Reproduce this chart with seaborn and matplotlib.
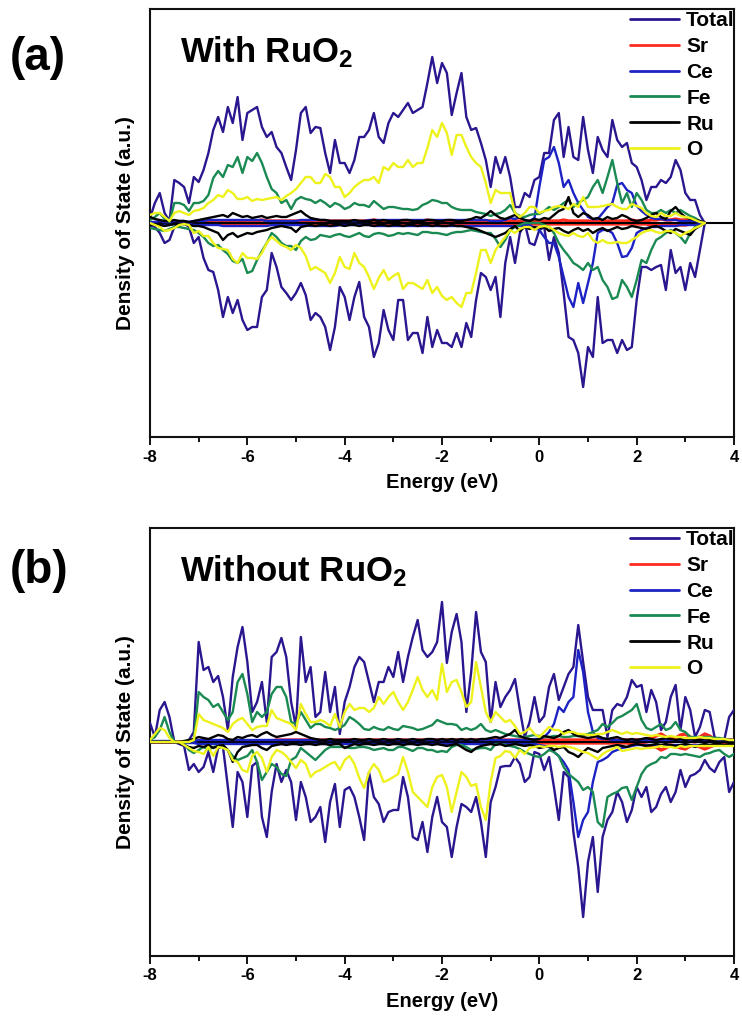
import numpy as np
import matplotlib
matplotlib.use("Agg")
import matplotlib.pyplot as plt
from matplotlib.lines import Line2D
import seaborn as sns

# ---------------- data (heights in arbitrary units) -------------
E_a = np.round(np.arange(115) * 0.1 - 8.0, 2)   # -8.0 ... 3.4 eV
E_b = np.round(np.arange(121) * 0.1 - 8.0, 2)   # -8.0 ... 4.0 eV

# ---- panel (a): With RuO2 ----
a_total_up = [5, 20, 30, 10, 2, 43, 40, 36, 20, 46,
              41, 53, 70, 93, 106, 91, 116, 100, 126, 83,
              110, 113, 116, 96, 86, 91, 76, 70, 56, 43,
              73, 110, 116, 90, 96, 95, 70, 50, 83, 60,
              60, 50, 63, 86, 86, 93, 110, 86, 80, 100,
              110, 106, 113, 120, 110, 113, 116, 140, 166, 140,
              160, 150, 108, 130, 150, 106, 93, 95, 80, 63,
              36, 66, 50, 66, 46, 16, 16, 30, 26, 43,
              46, 70, 70, 103, 110, 66, 96, 66, 63, 106,
              73, 50, 86, 73, 66, 103, 83, 76, 80, 60,
              56, 43, 23, 36, 36, 43, 40, 46, 63, 53,
              30, 23, 23, 8, 0]
a_total_dn = [2, 4, 10, 20, 17, 4, 0, 0, 4, 20,
              14, 35, 47, 49, 67, 94, 74, 90, 77, 97,
              107, 104, 104, 74, 67, 30, 44, 64, 70, 77,
              70, 60, 72, 97, 90, 94, 104, 127, 104, 64,
              74, 97, 74, 59, 94, 104, 134, 120, 87, 107,
              117, 77, 77, 117, 110, 110, 130, 94, 124, 107,
              120, 120, 124, 110, 124, 100, 114, 77, 50, 54,
              67, 54, 94, 40, 14, 40, 10, 0, 20, 22,
              7, 4, 37, 14, 30, 70, 114, 117, 130, 164,
              124, 134, 74, 120, 117, 117, 130, 117, 127, 124,
              77, 44, 44, 47, 44, 42, 67, 27, 50, 44,
              67, 40, 54, 27, 0]
a_fe_up = [3, 6, 10, 4, 1, 20, 20, 18, 12, 20,
           20, 22, 28, 45, 52, 46, 58, 56, 66, 50,
           66, 62, 70, 60, 46, 34, 30, 20, 23, 14,
           23, 26, 24, 23, 20, 23, 20, 16, 20, 18,
           14, 16, 20, 18, 18, 16, 22, 18, 14, 16,
           16, 15, 14, 14, 13, 14, 18, 20, 23, 22,
           20, 20, 16, 14, 13, 13, 13, 11, 10, 9,
           7, 9, 10, 13, 18, 10, 7, 6, 8, 9,
           9, 12, 16, 13, 16, 20, 23, 16, 20, 23,
           26, 36, 43, 30, 46, 63, 40, 20, 30, 16,
           30, 23, 13, 10, 10, 13, 10, 13, 10, 13,
           10, 7, 5, 2, 0]
a_fe_dn = [5, 6, 7, 8, 6, 4, 4, 5, 6, 7,
           10, 14, 20, 23, 22, 27, 31, 38, 40, 36,
           50, 48, 37, 28, 20, 10, 14, 20, 23, 23,
           27, 18, 14, 17, 16, 12, 13, 14, 12, 11,
           13, 14, 12, 10, 13, 14, 11, 10, 11, 13,
           12, 10, 11, 10, 11, 12, 9, 9, 10, 10,
           11, 12, 10, 9, 9, 8, 7, 8, 9, 10,
           10, 16, 24, 17, 7, 4, 2, 0, 0, 0,
           0, 2, 4, 10, 20, 27, 33, 40, 43, 47,
           40, 47, 44, 57, 64, 76, 74, 57, 64, 74,
           57, 37, 40, 27, 17, 14, 10, 7, 10, 14,
           20, 10, 4, 3, 0]
a_o_up = [8, 10, 10, 6, 2, 10, 12, 10, 8, 12,
          13, 15, 20, 23, 28, 26, 33, 30, 24, 24,
          26, 22, 24, 23, 24, 25, 26, 23, 27, 30,
          34, 40, 46, 46, 40, 40, 49, 46, 36, 36,
          26, 30, 36, 40, 43, 43, 46, 40, 56, 53,
          60, 56, 56, 63, 56, 60, 60, 75, 93, 86,
          100, 90, 68, 88, 88, 76, 66, 60, 56, 40,
          20, 33, 30, 30, 30, 10, 6, 10, 16, 16,
          10, 12, 13, 16, 17, 16, 14, 19, 16, 26,
          16, 16, 16, 17, 18, 19, 16, 14, 14, 19,
          17, 15, 10, 7, 6, 10, 7, 7, 10, 7,
          6, 5, 3, 1, 0]
a_o_dn = [0, 2, 4, 8, 7, 5, 2, 1, 2, 10,
          8, 13, 13, 20, 25, 26, 27, 36, 40, 30,
          35, 35, 36, 30, 20, 14, 18, 22, 24, 27,
          22, 25, 33, 47, 44, 47, 50, 60, 50, 34,
          44, 46, 30, 40, 44, 54, 66, 55, 47, 57,
          53, 50, 66, 60, 60, 63, 66, 57, 70, 64,
          73, 77, 74, 80, 84, 70, 70, 50, 27, 27,
          40, 27, 20, 14, 7, 10, 6, 4, 4, 7,
          4, 3, 4, 7, 10, 12, 13, 10, 13, 14,
          10, 17, 20, 17, 20, 20, 19, 20, 20, 17,
          14, 10, 8, 7, 9, 10, 8, 8, 10, 13,
          10, 8, 5, 3, 0]
a_ce_up = [1, 1, 2, 1, 1, 2, 2, 2, 1, 2,
           2, 2, 3, 3, 3, 3, 3, 3, 3, 3,
           3, 3, 3, 3, 2, 2, 2, 2, 2, 2,
           2, 3, 3, 3, 3, 3, 3, 2, 2, 2,
           2, 2, 2, 2, 2, 3, 3, 3, 3, 3,
           3, 3, 3, 3, 3, 3, 3, 3, 3, 3,
           3, 3, 3, 3, 3, 3, 3, 3, 3, 3,
           2, 2, 2, 3, 5, 4, 6, 3, 2, 5,
           36, 63, 66, 76, 60, 36, 43, 30, 20, 13,
           6, 4, 4, 10, 16, 20, 38, 40, 33, 30,
           17, 12, 8, 5, 4, 4, 3, 3, 3, 2,
           2, 2, 2, 1, 0]
a_ce_dn = [1, 1, 2, 2, 2, 1, 1, 1, 1, 2,
           2, 2, 2, 2, 2, 3, 3, 3, 3, 3,
           3, 3, 3, 3, 3, 2, 2, 2, 2, 2,
           2, 2, 2, 3, 3, 3, 3, 3, 3, 2,
           2, 2, 2, 2, 2, 2, 3, 3, 3, 3,
           3, 3, 3, 3, 3, 3, 3, 3, 3, 3,
           3, 3, 3, 3, 3, 3, 3, 3, 3, 3,
           3, 3, 3, 3, 3, 3, 3, 2, 2, 5,
           7, 14, 20, 20, 34, 54, 74, 84, 60, 80,
           60, 40, 10, 7, 7, 10, 20, 34, 33, 25,
           10, 7, 5, 4, 4, 3, 3, 3, 3, 2,
           2, 2, 2, 1, 0]
a_ru_up = [6, 4, 3, 2, 2, 3, 2, 2, 1, 2,
           3, 4, 5, 6, 7, 8, 6, 10, 8, 6,
           7, 5, 6, 7, 5, 6, 7, 6, 6, 8,
           10, 12, 8, 5, 4, 3, 3, 2, 2, 2,
           2, 2, 3, 2, 2, 2, 3, 2, 3, 2,
           2, 2, 3, 3, 2, 2, 2, 3, 3, 2,
           2, 3, 3, 2, 2, 3, 4, 6, 5, 8,
           12, 8, 5, 4, 6, 8, 5, 3, 2, 4,
           3, 5, 4, 8, 12, 14, 26, 10, 6, 10,
           8, 4, 5, 3, 6, 4, 5, 8, 6, 3,
           2, 3, 5, 8, 10, 6, 4, 12, 16, 10,
           6, 4, 3, 2, 0]
a_ru_dn = [2, 1, 2, 3, 2, 1, 1, 1, 2, 3,
           3, 4, 6, 8, 10, 17, 12, 10, 14, 12,
           10, 11, 9, 8, 7, 5, 4, 3, 4, 5,
           9, 4, 3, 2, 3, 2, 2, 3, 2, 2,
           3, 2, 2, 3, 2, 2, 3, 2, 2, 3,
           2, 2, 3, 2, 2, 3, 2, 2, 3, 2,
           3, 3, 2, 3, 3, 4, 5, 6, 8, 10,
           12, 14, 12, 10, 6, 3, 8, 4, 6, 4,
           5, 4, 8, 6, 5, 8, 10, 7, 5, 8,
           6, 10, 7, 5, 8, 6, 4, 6, 5, 3,
           4, 5, 6, 4, 3, 5, 8, 10, 6, 8,
           10, 12, 6, 3, 0]
a_sr_up = [0, 0, 0, 0, 0, 0, 0, 0, 0, 0,
           1, 1, 2, 2, 2, 2, 2, 2, 2, 2,
           2, 2, 2, 3, 2, 2, 2, 2, 2, 2,
           2, 2, 2, 2, 3, 2, 2, 2, 2, 2,
           2, 2, 2, 2, 2, 2, 3, 2, 2, 2,
           2, 2, 2, 2, 2, 2, 2, 3, 2, 2,
           2, 2, 2, 2, 2, 2, 2, 2, 2, 2,
           2, 2, 2, 2, 2, 2, 2, 2, 2, 2,
           2, 2, 2, 2, 2, 3, 2, 2, 2, 2,
           2, 2, 2, 2, 2, 2, 2, 2, 2, 3,
           2, 2, 2, 3, 3, 4, 3, 3, 4, 3,
           3, 2, 2, 1, 0]
a_sr_dn = [0, 0, 0, 0, 0, 0, 0, 0, 0, 0,
           0, 1, 1, 1, 1, 1, 1, 1, 1, 1,
           1, 1, 1, 1, 1, 1, 1, 1, 1, 1,
           1, 1, 1, 1, 1, 1, 1, 1, 1, 1,
           1, 1, 1, 1, 1, 1, 1, 1, 1, 1,
           1, 1, 1, 1, 1, 1, 1, 1, 1, 1,
           1, 1, 1, 1, 1, 1, 1, 1, 1, 1,
           1, 1, 1, 1, 1, 1, 1, 1, 1, 1,
           1, 1, 1, 1, 1, 1, 1, 1, 1, 1,
           1, 1, 1, 1, 1, 1, 1, 1, 1, 1,
           1, 1, 1, 2, 2, 2, 2, 2, 2, 2,
           2, 1, 1, 1, 0]

# ---- panel (b): Without RuO2 ----
b_total_up = [19, 5, 32, 40, 25, 0, 0, 0, 2, 10,
              100, 72, 75, 60, 66, 45, 12, 65, 95, 115,
              80, 30, 40, 60, 20, 85, 90, 104, 85, 40,
              15, 105, 60, 75, 25, 30, 70, 30, 55, 8,
              40, 55, 75, 85, 80, 60, 40, 60, 60, 75,
              65, 90, 60, 85, 105, 122, 92, 85, 90, 100,
              140, 79, 110, 128, 100, 30, 70, 130, 90, 80,
              20, 60, 35, 45, 52, 63, 32, 5, 20, 45,
              20, 26, 55, 68, 42, 55, 68, 75, 117, 80,
              45, 32, 32, 32, 5, 32, 38, 36, 45, 62,
              55, 57, 30, 52, 40, 12, 20, 45, 57, 12,
              45, 32, 5, 15, 32, 30, 5, 2, 2, 25,
              32]
b_total_dn = [0, 0, 0, 0, 0, 0, 2, 4, 28, 22,
              30, 25, 10, 30, 6, 5, 45, 85, 30, 40,
              75, 24, 20, 75, 95, 50, 22, 40, 28, 40,
              78, 40, 55, 80, 75, 65, 100, 60, 42, 85,
              48, 45, 55, 75, 98, 30, 55, 62, 80, 70,
              68, 68, 35, 55, 95, 98, 80, 110, 75, 55,
              80, 85, 115, 85, 62, 65, 70, 55, 80, 115,
              60, 45, 25, 24, 24, 15, 22, 40, 35, 10,
              12, 28, 15, 45, 78, 30, 35, 90, 125, 175,
              120, 95, 150, 95, 78, 70, 50, 60, 80, 68,
              45, 55, 45, 70, 65, 52, 45, 60, 50, 28,
              45, 34, 32, 28, 18, 26, 30, 20, 15, 50,
              40]
b_fe_up = [2, 5, 12, 25, 10, 0, 0, 0, 0, 2,
           50, 45, 42, 35, 38, 30, 22, 30, 60, 68,
           48, 20, 30, 25, 30, 48, 55, 55, 45, 20,
           18, 30, 22, 14, 18, 18, 15, 14, 12, 14,
           17, 25, 22, 18, 13, 12, 15, 13, 12, 15,
           13, 12, 16, 15, 14, 12, 13, 15, 17, 22,
           20, 18, 18, 17, 12, 14, 12, 14, 18, 12,
           10, 12, 10, 8, 7, 6, 5, 5, 6, 7,
           6, 5, 5, 6, 6, 5, 5, 6, 6, 7,
           8, 10, 12, 18, 15, 19, 24, 26, 29, 32,
           38, 22, 14, 12, 15, 18, 12, 14, 20, 12,
           10, 5, 5, 5, 5, 5, 4, 4, 3, 2,
           2]
b_fe_dn = [0, 0, 0, 0, 0, 0, 0, 2, 8, 11,
           8, 5, 8, 5, 4, 5, 8, 14, 18, 16,
           14, 8, 20, 38, 30, 22, 25, 32, 34, 18,
           15, 6, 10, 14, 18, 13, 8, 5, 5, 5,
           5, 6, 6, 5, 5, 6, 8, 7, 6, 8,
           8, 5, 5, 7, 9, 6, 6, 8, 8, 10,
           9, 10, 5, 3, 3, 5, 8, 7, 6, 6,
           8, 2, 2, 3, 4, 5, 7, 10, 12, 14,
           15, 12, 8, 10, 14, 25, 32, 36, 40, 48,
           45, 50, 80, 85, 55, 52, 50, 46, 45, 58,
           45, 32, 25, 22, 20, 15, 16, 12, 12, 13,
           12, 13, 14, 15, 12, 11, 9, 8, 12, 15,
           12]
b_o_up = [2, 8, 14, 12, 4, 0, 0, 0, 0, 2,
          28, 22, 20, 18, 16, 14, 10, 18, 22, 24,
          18, 12, 15, 16, 16, 32, 24, 22, 20, 18,
          12, 38, 28, 20, 20, 22, 20, 16, 28, 15,
          30, 38, 32, 34, 34, 30, 34, 45, 38, 45,
          50, 40, 32, 40, 52, 65, 52, 45, 52, 42,
          78, 50, 60, 62, 50, 35, 40, 80, 55, 30,
          20, 30, 25, 20, 22, 16, 8, 10, 14, 8,
          5, 10, 15, 12, 12, 8, 10, 10, 8, 8,
          7, 7, 8, 8, 10, 12, 10, 8, 10, 8,
          9, 8, 7, 6, 7, 6, 5, 6, 5, 5,
          4, 4, 4, 5, 4, 4, 3, 3, 3, 2,
          2]
b_o_dn = [0, 0, 0, 0, 0, 0, 0, 3, 6, 9,
          10, 12, 5, 14, 5, 6, 8, 18, 20, 28,
          30, 14, 10, 16, 30, 15, 8, 10, 14, 20,
          26, 18, 22, 35, 30, 28, 25, 22, 20, 28,
          18, 14, 22, 36, 46, 30, 22, 28, 40, 38,
          35, 32, 15, 30, 50, 55, 60, 65, 45, 35,
          33, 45, 70, 50, 30, 35, 44, 42, 65, 78,
          40, 16, 14, 9, 10, 16, 8, 12, 6, 5,
          4, 5, 4, 4, 5, 4, 5, 6, 8, 10,
          11, 14, 17, 12, 9, 7, 5, 9, 8, 7,
          6, 7, 6, 6, 5, 4, 5, 5, 6, 4,
          5, 4, 4, 4, 4, 4, 4, 4, 4, 4,
          4]
b_ce_up = [1, 1, 1, 1, 1, 0, 0, 0, 1, 1,
           2, 2, 2, 2, 2, 2, 2, 2, 2, 2,
           2, 2, 2, 2, 2, 2, 2, 2, 2, 2,
           2, 2, 2, 2, 2, 2, 2, 2, 2, 2,
           2, 2, 2, 2, 2, 2, 2, 2, 2, 2,
           2, 2, 2, 2, 2, 2, 2, 2, 2, 2,
           2, 2, 2, 2, 2, 2, 2, 2, 2, 2,
           2, 2, 2, 2, 2, 2, 2, 2, 2, 3,
           3, 5, 10, 18, 35, 30, 40, 45, 92, 70,
           30, 10, 4, 3, 3, 2, 2, 2, 2, 2,
           2, 2, 2, 2, 2, 2, 2, 2, 2, 2,
           2, 2, 2, 2, 2, 2, 2, 2, 2, 2,
           2]
b_ce_dn = [0, 0, 0, 0, 0, 0, 0, 1, 1, 1,
           2, 2, 2, 2, 2, 2, 2, 2, 2, 2,
           2, 2, 2, 2, 2, 2, 2, 2, 2, 2,
           2, 2, 2, 2, 2, 2, 2, 2, 2, 2,
           2, 2, 2, 2, 2, 2, 2, 2, 2, 2,
           2, 2, 2, 2, 2, 2, 2, 2, 2, 2,
           2, 2, 2, 2, 2, 2, 2, 2, 2, 2,
           2, 2, 2, 2, 2, 2, 2, 2, 2, 2,
           3, 4, 5, 10, 14, 20, 28, 60, 95, 78,
           70, 40, 20, 18, 15, 10, 8, 6, 5, 4,
           3, 3, 3, 3, 3, 3, 3, 3, 3, 3,
           3, 3, 3, 3, 3, 3, 3, 3, 3, 3,
           3]
b_ru_up = [0, 0, 0, 0, 0, 0, 0, 1, 2, 3,
           5, 4, 3, 5, 7, 6, 3, 2, 5, 4,
           6, 7, 5, 8, 10, 7, 5, 6, 7, 8,
           10, 8, 6, 4, 3, 2, 2, 3, 2, 2,
           2, 2, 3, 2, 2, 3, 2, 2, 3, 2,
           2, 3, 2, 2, 3, 2, 2, 3, 3, 2,
           3, 2, 3, 2, 3, 2, 3, 2, 3, 3,
           4, 5, 4, 6, 8, 12, 6, 4, 3, 2,
           3, 6, 5, 4, 6, 10, 12, 8, 6, 5,
           4, 5, 6, 4, 3, 4, 5, 3, 2, 3,
           2, 3, 4, 3, 2, 3, 4, 3, 2, 3,
           2, 3, 2, 2, 3, 2, 2, 3, 2, 2,
           2]
b_ru_dn = [0, 0, 0, 0, 0, 0, 1, 3, 5, 6,
           4, 5, 3, 6, 4, 3, 8, 20, 10, 5,
           4, 3, 3, 6, 8, 4, 3, 2, 3, 2,
           2, 3, 2, 2, 3, 2, 2, 3, 2, 2,
           6, 4, 2, 3, 2, 2, 3, 2, 2, 3,
           2, 2, 3, 2, 2, 3, 2, 2, 3, 2,
           3, 4, 3, 2, 5, 8, 10, 6, 4, 3,
           2, 3, 2, 4, 3, 2, 3, 4, 3, 4,
           6, 5, 4, 8, 6, 5, 10, 12, 15, 10,
           6, 8, 10, 6, 5, 4, 3, 4, 5, 3,
           2, 3, 4, 3, 2, 3, 2, 3, 4, 3,
           2, 3, 5, 3, 2, 3, 2, 2, 3, 2,
           2]
b_sr_up = [0, 0, 0, 0, 0, 0, 0, 0, 0, 0,
           0, 0, 0, 0, 0, 0, 0, 0, 0, 0,
           0, 0, 0, 0, 0, 1, 2, 2, 2, 2,
           2, 2, 2, 2, 2, 2, 2, 2, 2, 2,
           2, 2, 2, 2, 2, 2, 2, 2, 2, 2,
           2, 2, 2, 2, 2, 2, 2, 2, 2, 2,
           2, 2, 2, 2, 2, 2, 2, 2, 2, 2,
           2, 2, 2, 2, 2, 2, 2, 2, 2, 2,
           2, 2, 2, 2, 2, 2, 2, 2, 2, 2,
           2, 2, 2, 2, 2, 2, 2, 2, 2, 2,
           2, 2, 3, 4, 6, 8, 5, 3, 4, 7,
           8, 5, 3, 5, 8, 6, 3, 2, 2, 2,
           2]
b_sr_dn = [0, 0, 0, 0, 0, 0, 0, 0, 0, 0,
           0, 0, 0, 0, 0, 0, 0, 0, 0, 0,
           0, 0, 0, 0, 0, 0, 1, 1, 1, 1,
           1, 1, 1, 1, 1, 1, 1, 1, 1, 1,
           1, 1, 1, 1, 1, 1, 1, 1, 1, 1,
           1, 1, 1, 1, 1, 1, 1, 1, 1, 1,
           1, 1, 1, 1, 1, 1, 1, 1, 1, 1,
           1, 1, 1, 1, 1, 1, 1, 1, 1, 1,
           1, 1, 1, 1, 1, 1, 1, 1, 1, 1,
           1, 1, 1, 1, 1, 1, 1, 1, 1, 2,
           2, 2, 3, 4, 5, 8, 6, 3, 4, 6,
           7, 4, 3, 5, 7, 5, 3, 2, 2, 2,
           2]

species = ["Total", "Sr", "Ce", "Fe", "Ru", "O"]
colors = {"Total": "#2a168f", "Sr": "#ff2a1e", "Ce": "#1c22c4",
          "Fe": "#1a8a52", "Ru": "#000000", "O": "#eef21c"}
x_ticks = [-8, -6, -4, -2, 0, 2, 4]
panel_titles = ["With RuO$_2$", "Without RuO$_2$"]
panel_tags = ["(a)", "(b)"]

panels = [
    (E_a, {"Total": (a_total_up, a_total_dn), "Sr": (a_sr_up, a_sr_dn),
           "Ce": (a_ce_up, a_ce_dn), "Fe": (a_fe_up, a_fe_dn),
           "Ru": (a_ru_up, a_ru_dn), "O": (a_o_up, a_o_dn)}),
    (E_b, {"Total": (b_total_up, b_total_dn), "Sr": (b_sr_up, b_sr_dn),
           "Ce": (b_ce_up, b_ce_dn), "Fe": (b_fe_up, b_fe_dn),
           "Ru": (b_ru_up, b_ru_dn), "O": (b_o_up, b_o_dn)}),
]

# ---------------- style -------------------
sns.set_theme(style="white")
plt.rcParams["font.family"] = ["Liberation Sans", "DejaVu Sans"]
plt.rcParams["font.weight"] = "bold"
plt.rcParams["text.color"] = "black"
plt.rcParams["axes.labelcolor"] = "black"
plt.rcParams["xtick.color"] = "black"
plt.rcParams["ytick.color"] = "black"
plt.rcParams["mathtext.fontset"] = "custom"
plt.rcParams["mathtext.rm"] = "Liberation Sans:bold"
plt.rcParams["mathtext.default"] = "rm"
plt.rcParams["lines.solid_joinstyle"] = "round"

fig = plt.figure(figsize=(7.42, 10.19), dpi=100)
W, H = 742, 1019
ax_rects = [
    [150 / W, 1 - 437 / H, 584 / W, 428 / H],
    [150 / W, 1 - 956 / H, 584 / W, 428 / H],
]
tag_y = [1 - 58 / H, 1 - 571 / H]

for i, (E, data) in enumerate(panels):
    ax = fig.add_axes(ax_rects[i])
    for sp in species:
        up, dn = data[sp]
        lw = 2.4 if sp == "Sr" else 1.7
        z = 2.0 if sp == "Sr" else 2.6
        for sign, vals in ((1.0, up), (-1.0, dn)):
            sns.lineplot(x=E, y=sign * np.array(vals, dtype=float), ax=ax,
                         color=colors[sp], lw=lw, estimator=None, sort=False,
                         legend=False, zorder=z)
    ax.axhline(0, color="black", lw=1.5, zorder=2.3)
    ax.set_xlim(-8, 4)
    ax.set_ylim(-214, 214)
    ax.set_xticks(x_ticks)
    ax.set_xticks([-7, -5, -3, -1, 1, 3], minor=True)
    ax.set_xticklabels([str(t) for t in x_ticks], fontsize=12, fontweight="bold",
                       color="black")
    ax.set_yticks([])
    ax.tick_params(axis="x", which="major", direction="out", length=6, width=1.3,
                   bottom=True, pad=3, colors="black")
    ax.tick_params(axis="x", which="minor", direction="out", length=3.5, width=1.3,
                   bottom=True, colors="black")
    for s in ax.spines.values():
        s.set_linewidth(1.5)
        s.set_color("#111111")
    ax.set_xlabel("Energy (eV)", fontsize=14.5, fontweight="bold", labelpad=6,
                  color="black")
    ax.set_ylabel("Density of State (a.u.)", fontsize=15, fontweight="bold",
                  labelpad=11, color="black")
    ax.text(-7.38, 161, panel_titles[i], fontsize=25, fontweight="bold",
            va="baseline", ha="left", color="black")
    handles = [Line2D([], [], color=colors[sp], lw=2.0) for sp in species]
    leg = ax.legend(handles, species, loc="upper right", bbox_to_anchor=(1.005, 1.0),
                    frameon=False, prop={"weight": "bold", "size": 15},
                    handlelength=2.35, handletextpad=0.35, labelspacing=0.33,
                    borderaxespad=0.0, borderpad=0.1)
    for t in leg.get_texts():
        t.set_color("black")
    fig.text(10 / W, tag_y[i], panel_tags[i], fontsize=33, fontweight="bold",
             ha="left", va="center", color="black")

fig.savefig("out.png", dpi=100)
